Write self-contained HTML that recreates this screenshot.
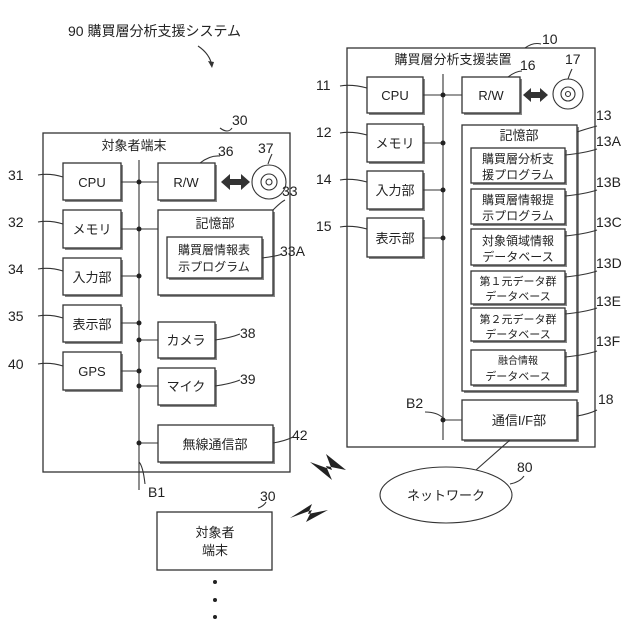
<!DOCTYPE html>
<html><head><meta charset="utf-8"><style>
body{margin:0;background:#fff}
svg{display:block}
text{font-family:"Liberation Sans","Noto Sans CJK JP",sans-serif;fill:#222}
.b{fill:#fff;stroke:#333;stroke-width:1.3}
.s{fill:#888}
.l{fill:none;stroke:#333;stroke-width:1.1}
</style></head><body>
<svg width="640" height="640" viewBox="0 0 640 640" xmlns="http://www.w3.org/2000/svg">
<defs><g id="d"></g></defs>
<!-- title -->
<text x="68" y="36" font-size="14">90 購買層分析支援システム</text>
<path class="l" d="M198 46 Q210 54 212 66"/><path d="M212 68 l-4 -7 l6 1z" fill="#333"/>

<!-- LEFT terminal -->
<rect class="b" x="43" y="133" width="247" height="339"/>
<text x="134" y="150" font-size="13" text-anchor="middle">対象者端末</text>
<text x="232" y="125" font-size="14">30</text><path class="l" d="M220 128 q8 6 12 0"/>
<line class="l" x1="139" y1="160" x2="139" y2="490"/>
<text x="148" y="497" font-size="14">B1</text>
<g font-size="13" text-anchor="middle">
<rect class="s" x="65" y="165" width="58" height="37"/><rect class="b" x="63" y="163" width="58" height="37"/><text x="92" y="187">CPU</text>
<rect class="s" x="65" y="212" width="58" height="38"/><rect class="b" x="63" y="210" width="58" height="38"/><text x="92" y="234">メモリ</text>
<rect class="s" x="65" y="260" width="58" height="37"/><rect class="b" x="63" y="258" width="58" height="37"/><text x="92" y="282">入力部</text>
<rect class="s" x="65" y="307" width="58" height="37"/><rect class="b" x="63" y="305" width="58" height="37"/><text x="92" y="329">表示部</text>
<rect class="s" x="65" y="354" width="58" height="38"/><rect class="b" x="63" y="352" width="58" height="38"/><text x="92" y="376">GPS</text>
<rect class="s" x="160" y="165" width="57" height="37"/><rect class="b" x="158" y="163" width="57" height="37"/><text x="186" y="187">R/W</text>
<rect class="s" x="160" y="212" width="115" height="85"/><rect class="b" x="158" y="210" width="115" height="85"/><text x="215" y="228">記憶部</text>
<rect class="s" x="169" y="239" width="95" height="41"/><rect class="b" x="167" y="237" width="95" height="41"/>
<text x="214" y="254" font-size="12">購買層情報表</text><text x="214" y="271" font-size="12">示プログラム</text>
<rect class="s" x="160" y="324" width="57" height="36"/><rect class="b" x="158" y="322" width="57" height="36"/><text x="186" y="345">カメラ</text>
<rect class="s" x="160" y="370" width="57" height="37"/><rect class="b" x="158" y="368" width="57" height="37"/><text x="186" y="391">マイク</text>
<rect class="s" x="160" y="427" width="115" height="37"/><rect class="b" x="158" y="425" width="115" height="37"/><text x="215" y="449">無線通信部</text>
</g>
<g class="l">
<line x1="121" y1="182" x2="158" y2="182"/><line x1="121" y1="229" x2="158" y2="229"/>
<line x1="121" y1="276" x2="139" y2="276"/><line x1="121" y1="323" x2="139" y2="323"/>
<line x1="121" y1="371" x2="139" y2="371"/><line x1="139" y1="340" x2="158" y2="340"/>
<line x1="139" y1="386" x2="158" y2="386"/><line x1="139" y1="443" x2="158" y2="443"/>
</g>
<g fill="#222"><circle cx="139" cy="182" r="2.5"/><circle cx="139" cy="229" r="2.5"/><circle cx="139" cy="276" r="2.5"/><circle cx="139" cy="323" r="2.5"/><circle cx="139" cy="340" r="2.5"/><circle cx="139" cy="371" r="2.5"/><circle cx="139" cy="386" r="2.5"/><circle cx="139" cy="443" r="2.5"/></g>
<path d="M221 182 l9 -8 v5 h11 v-5 l9 8 l-9 8 v-5 h-11 v5z" fill="#333"/>
<circle cx="269" cy="182" r="17" class="l"/><circle cx="269" cy="182" r="8" class="l"/><circle cx="269" cy="182" r="3" class="l"/>
<g font-size="14">
<text x="8" y="180">31</text><text x="8" y="227">32</text><text x="8" y="274">34</text><text x="8" y="321">35</text><text x="8" y="369">40</text>
<text x="218" y="156">36</text><text x="258" y="153">37</text><text x="282" y="196">33</text><text x="280" y="256">33A</text>
<text x="240" y="338">38</text><text x="240" y="384">39</text><text x="292" y="440">42</text>
</g>
<g class="l"><path d="M38 175 q12 -2 25 2"/><path d="M38 222 q12 -2 25 2"/><path d="M38 269 q12 -2 25 2"/><path d="M38 316 q12 -2 25 2"/><path d="M38 364 q12 -2 25 2"/>
<path d="M200 163 q10 -8 20 -7"/><path d="M268 164 q2 -6 4 -10"/><path d="M273 210 q8 -8 12 -10"/><path d="M262 258 q16 -2 20 -4"/>
<path d="M215 340 q15 -2 25 -6"/><path d="M215 386 q15 -2 25 -6"/><path d="M273 443 q12 -2 20 -6"/><path d="M139 462 q4 4 6 22"/></g>

<!-- RIGHT device -->
<rect class="b" x="347" y="48" width="248" height="399"/>
<text x="453" y="64" font-size="13" text-anchor="middle">購買層分析支援装置</text>
<text x="542" y="44" font-size="14">10</text><path class="l" d="M525 48 q8 -6 16 -4"/>
<line class="l" x1="443" y1="74" x2="443" y2="440"/>
<g font-size="13" text-anchor="middle">
<rect class="s" x="369" y="79" width="56" height="36"/><rect class="b" x="367" y="77" width="56" height="36"/><text x="395" y="100">CPU</text>
<rect class="s" x="369" y="126" width="56" height="38"/><rect class="b" x="367" y="124" width="56" height="38"/><text x="395" y="148">メモリ</text>
<rect class="s" x="369" y="173" width="56" height="38"/><rect class="b" x="367" y="171" width="56" height="38"/><text x="395" y="195">入力部</text>
<rect class="s" x="369" y="220" width="56" height="39"/><rect class="b" x="367" y="218" width="56" height="39"/><text x="395" y="243">表示部</text>
<rect class="s" x="464" y="79" width="58" height="36"/><rect class="b" x="462" y="77" width="58" height="36"/><text x="491" y="100">R/W</text>
<rect class="s" x="464" y="127" width="115" height="266"/><rect class="b" x="462" y="125" width="115" height="266"/><text x="519" y="140">記憶部</text>
<g font-size="12">
<rect class="s" x="473" y="150" width="94" height="35"/><rect class="b" x="471" y="148" width="94" height="35"/><text x="518" y="163">購買層分析支</text><text x="518" y="179">援プログラム</text>
<rect class="s" x="473" y="191" width="94" height="35"/><rect class="b" x="471" y="189" width="94" height="35"/><text x="518" y="204">購買層情報提</text><text x="518" y="220">示プログラム</text>
<rect class="s" x="473" y="231" width="94" height="36"/><rect class="b" x="471" y="229" width="94" height="36"/><text x="518" y="245">対象領域情報</text><text x="518" y="261">データベース</text>
<rect class="s" x="473" y="273" width="94" height="33"/><rect class="b" x="471" y="271" width="94" height="33"/><text x="518" y="285" font-size="11">第１元データ群</text><text x="518" y="300" font-size="11">データベース</text>
<rect class="s" x="473" y="310" width="94" height="33"/><rect class="b" x="471" y="308" width="94" height="33"/><text x="518" y="323" font-size="11">第２元データ群</text><text x="518" y="338" font-size="11">データベース</text>
<rect class="s" x="473" y="352" width="94" height="35"/><rect class="b" x="471" y="350" width="94" height="35"/><text x="518" y="364" font-size="10">融合情報</text><text x="518" y="380" font-size="11">データベース</text>
</g>
<rect class="s" x="464" y="402" width="115" height="40"/><rect class="b" x="462" y="400" width="115" height="40"/><text x="519" y="425">通信I/F部</text>
</g>
<g class="l"><line x1="423" y1="95" x2="462" y2="95"/><line x1="423" y1="143" x2="443" y2="143"/><line x1="423" y1="190" x2="443" y2="190"/><line x1="423" y1="238" x2="443" y2="238"/><line x1="443" y1="420" x2="462" y2="420"/></g>
<g fill="#222"><circle cx="443" cy="95" r="2.5"/><circle cx="443" cy="143" r="2.5"/><circle cx="443" cy="190" r="2.5"/><circle cx="443" cy="238" r="2.5"/><circle cx="443" cy="420" r="2.5"/></g>
<path d="M523 95 l8 -7 v4 h9 v-4 l8 7 l-8 7 v-4 h-9 v4z" fill="#333"/>
<circle cx="568" cy="94" r="15" class="l"/><circle cx="568" cy="94" r="7" class="l"/><circle cx="568" cy="94" r="2.5" class="l"/>
<g font-size="14">
<text x="316" y="90">11</text><text x="316" y="137">12</text><text x="316" y="184">14</text><text x="316" y="231">15</text>
<text x="520" y="70">16</text><text x="565" y="64">17</text><text x="596" y="120">13</text>
<text x="596" y="146">13A</text><text x="596" y="187">13B</text><text x="596" y="227">13C</text><text x="596" y="268">13D</text><text x="596" y="306">13E</text><text x="596" y="346">13F</text>
<text x="406" y="408">B2</text><text x="598" y="404">18</text>
</g>
<g class="l"><path d="M340 86 q12 -2 27 2"/><path d="M340 133 q12 -2 27 2"/><path d="M340 180 q12 -2 27 2"/><path d="M340 227 q12 -2 27 2"/>
<path d="M508 77 q8 -6 14 -6"/><path d="M568 79 q2 -6 4 -10"/><path d="M577 132 q12 -4 20 -6"/>
<path d="M565 155 q20 -2 32 -6"/><path d="M565 196 q20 -2 32 -6"/><path d="M565 236 q20 -2 32 -6"/><path d="M565 277 q20 -2 32 -6"/><path d="M565 314 q20 -2 32 -6"/><path d="M565 357 q20 -2 32 -6"/>
<path d="M577 416 q12 -2 20 -6"/><path d="M425 412 q12 0 18 6"/>
<line x1="510" y1="440" x2="476" y2="470"/></g>

<!-- network -->
<ellipse cx="446" cy="495" rx="66" ry="28" class="l"/>
<text x="446" y="500" font-size="13" text-anchor="middle">ネットワーク</text>
<text x="517" y="472" font-size="14">80</text><path class="l" d="M510 484 q10 -2 14 -8"/>
<!-- lightning -->
<path d="M310 462 l22 8 l-6 -16 l20 16 l-20 -4 l6 14z" fill="#222"/>
<path d="M290 518 l22 -8 l-6 12 l22 -12 l-20 4 l4 -10z" fill="#222"/>
<!-- bottom terminal -->
<rect class="b" x="157" y="512" width="115" height="58"/>
<text x="215" y="537" font-size="13" text-anchor="middle">対象者</text><text x="215" y="555" font-size="13" text-anchor="middle">端末</text>
<text x="260" y="501" font-size="14">30</text><path class="l" d="M258 508 q6 -2 8 -6"/>
<g fill="#222"><circle cx="215" cy="582" r="2"/><circle cx="215" cy="600" r="2"/><circle cx="215" cy="617" r="2"/></g>
</svg>
</body></html>
